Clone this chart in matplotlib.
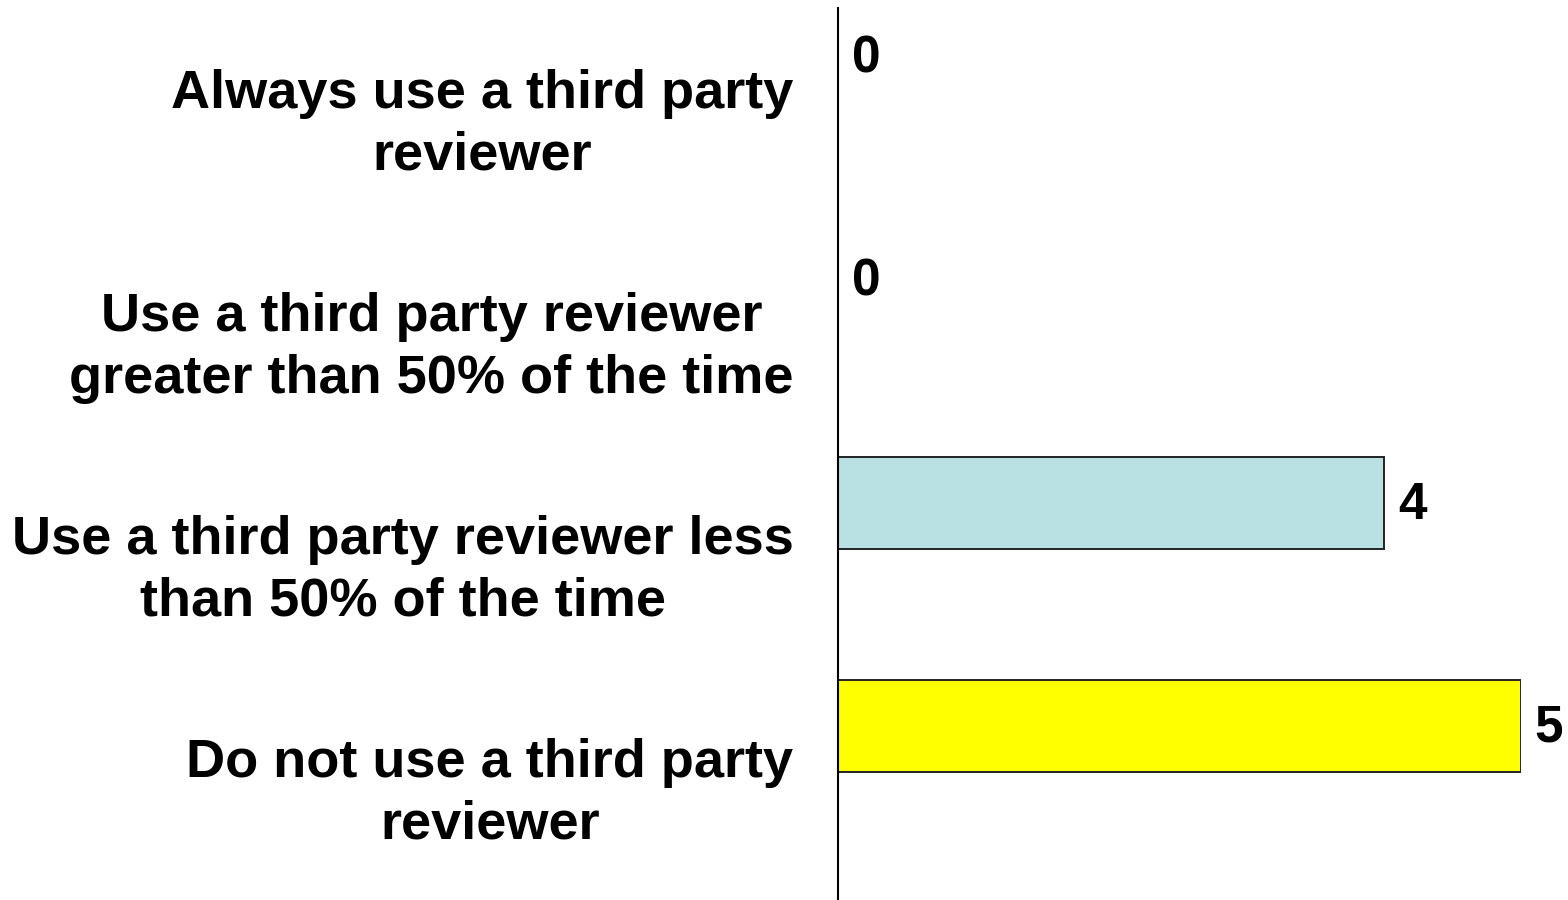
import numpy as np
import matplotlib.pyplot as plt

categorias = ['Always use a third party\nreviewer',
              'Use a third party reviewer\ngreater than 50% of the time',
              'Use a third party reviewer less\nthan 50% of the time',
              'Do not use a third party\nreviewer']
valores = [0, 0, 4, 5]
cores = ['#B9E0E3', '#B9E0E3', '#B9E0E3', '#FFFF00']

plt.rcParams['font.family'] = ['Liberation Sans', 'DejaVu Sans']
plt.rcParams['font.weight'] = 'bold'

fig = plt.figure(figsize=(15.68, 9.0), dpi=100)
ax = fig.add_axes([838 / 1568, 0.0, (1521 - 838) / 1568, 1 - 8 / 900])

pos = np.arange(len(categorias))
desloc = 0.28  # barras ficam acima do centro da categoria
ax.barh(pos - desloc, valores, height=0.415, color=cores,
        edgecolor='#222222', linewidth=1.4)

ax.set_xlim(0, 5)
ax.set_ylim(3.5, -0.5)

for p, v in zip(pos, valores):
    ax.text(v + 0.1, p - desloc + 0.01, str(v), fontsize=37, fontweight='bold',
            va='center', ha='left', clip_on=False)

# marcas invisiveis, um pouco acima do centro para alinhar os rotulos
ax.set_yticks(pos - 0.027)
ax.set_yticklabels(categorias, fontsize=39, fontweight='bold',
                   multialignment='center', linespacing=1.3)
ax.tick_params(axis='y', length=0, pad=32)
ax.set_xticks([])

for lado in ['top', 'right', 'bottom']:
    ax.spines[lado].set_visible(False)
ax.spines['left'].set_linewidth(1.5)

fig.savefig('out.png', dpi=100)
